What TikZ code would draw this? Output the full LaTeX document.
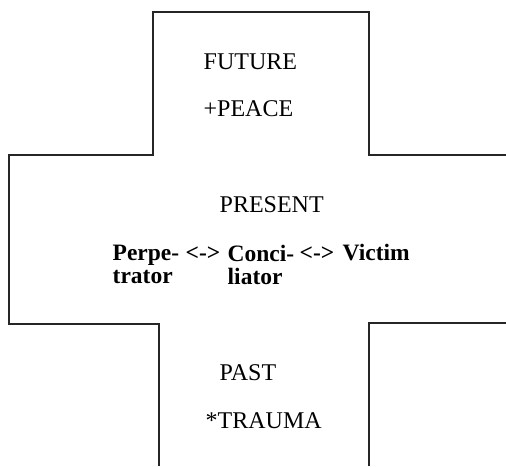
\documentclass[tikz,border=0pt]{standalone}
\usepackage{fontspec}
\setmainfont{Liberation Serif}
\usepackage{tikz}
\usetikzlibrary{positioning}

\begin{document}
\begin{tikzpicture}[x=1pt, y=-1pt, line width=1.4pt,
    every node/.style={font=\fontsize{24}{23.5}\selectfont, inner sep=0pt, anchor=base west},
    role/.style={font=\fontsize{23.5}{23.5}\selectfont\bfseries, align=left}]
    \useasboundingbox (0,0) rectangle (506,466);

    % Cross outline
    \draw[black!85] (506,155) -- (369,155) -- (369,12) -- (153,12) -- (153,155)
        -- (9,155) -- (9,324) -- (159,324) -- (159,466);
    \draw[black!85] (506,323) -- (369,323) -- (369,466);

    % Future arm
    \node (future) at (203,69) {FUTURE};
    \node (peace) at (203,116) {+PEACE};

    % Present arm
    \node (present) at (219,212) {PRESENT};
    \node[role, anchor=north west] (perp) at (112,244) {Perpe-\\trator};
    \node[role] (arrA) at (185,260) {<->};
    \node[role, anchor=north west] (conc) at (227,244) {Conci-\\liator};
    \node[role] (arrB) at (299,260) {<->};
    \node[role] (victim) at (342,260) {Victim};

    % Past arm
    \node (past) at (219,380) {PAST};
    \node (trauma) at (205,428) {*TRAUMA};
\end{tikzpicture}
\end{document}
